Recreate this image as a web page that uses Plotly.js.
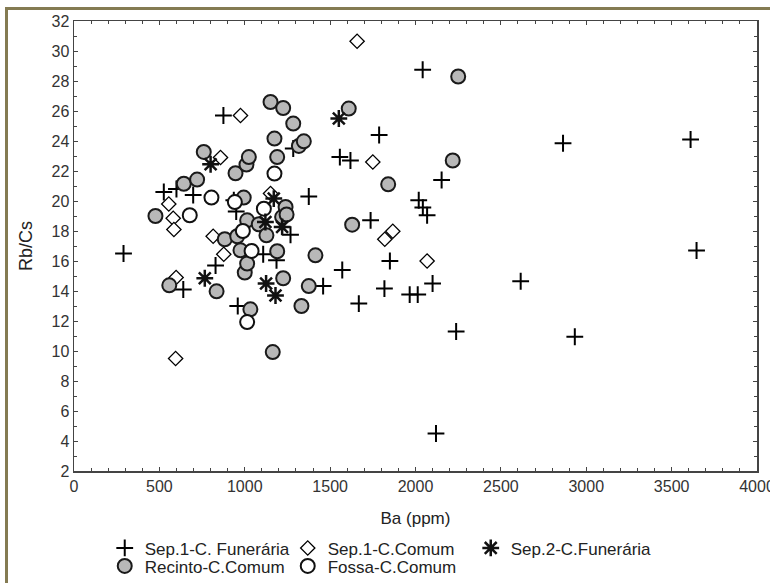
<!DOCTYPE html>
<html>
<head>
<meta charset="utf-8">
<script src="https://cdn.plot.ly/plotly-3.0.1.min.js"></script>
<style>
  html, body { margin: 0; padding: 0; background: #fff; }
  #wrap { position: relative; width: 770px; height: 583px; overflow: hidden; }
  #chart { position: absolute; left: 0; top: 0; width: 770px; height: 583px; }
  #frame { position: absolute; left: 5px; top: 7px; width: 900px; height: 700px;
           border-left: 3px solid #847b52; border-top: 3px solid #847b52; pointer-events: none; }
</style>
</head>
<body>
<div id="wrap"><div id="chart"></div><div id="frame"></div></div>
<script>
// Sep.1-C. Funerária
const sep1FunBa = [290, 875, 526, 600, 698, 640, 829, 936, 950, 959, 1108, 1186, 1268, 1284, 1375, 1459, 1557, 1619, 1571, 1668, 1737, 1787, 1818, 1850, 1966, 2013, 2019, 2043, 2068, 2100, 2042, 2153, 2120, 2238, 2616, 2864, 2933, 3611, 3646];
const sep1FunRb = [16.5, 25.7, 20.6, 20.8, 20.4, 14.1, 15.7, 20.05, 19.3, 13.0, 16.45, 16.05, 17.75, 23.5, 20.3, 14.33, 22.93, 22.7, 15.4, 13.16, 18.71, 24.4, 14.16, 16.0, 13.76, 13.76, 20.05, 19.56, 19.05, 14.5, 28.75, 21.4, 4.5, 11.3, 14.65, 23.85, 10.95, 24.1, 16.7];
// Sep.1-C.Comum
const sep1ComBa = [975, 858, 555, 581, 585, 815, 877, 598, 595, 1151, 1658, 1750, 1867, 1820, 2068];
const sep1ComRb = [25.7, 22.9, 19.8, 18.85, 18.1, 17.65, 16.45, 14.9, 9.5, 20.5, 30.65, 22.6, 17.98, 17.45, 16.0];
// Sep.2-C.Funerária
const sep2FunBa = [800, 1551, 1170, 1121, 1219, 766, 1125, 1180];
const sep2FunRb = [22.45, 25.5, 20.16, 18.6, 18.27, 14.85, 14.5, 13.7];
// Recinto-C.Comum
const recintoBa = [477, 558, 643, 721, 760, 835, 883, 946, 956, 975, 994, 1000, 1014, 1010, 1024, 1014, 1033, 1082, 1127, 1151, 1164, 1174, 1190, 1190, 1219, 1225, 1225, 1239, 1245, 1284, 1317, 1346, 1332, 1375, 1414, 1609, 1629, 1840, 2218, 2250];
const recintoRb = [19.0, 14.38, 21.15, 21.43, 23.27, 13.98, 17.45, 21.85, 17.65, 16.71, 20.23, 15.23, 15.83, 22.43, 22.93, 18.71, 12.78, 18.45, 17.71, 26.6, 9.93, 24.16, 22.93, 16.65, 18.93, 26.2, 14.85, 19.6, 19.1, 25.16, 23.67, 23.98, 13.0, 14.33, 16.38, 26.16, 18.42, 21.11, 22.7, 28.3];
// Fossa-C.Comum
const fossaBa = [678, 805, 942, 989, 1040, 1112, 1174, 1014];
const fossaRb = [19.05, 20.23, 19.93, 18.0, 16.67, 19.49, 21.83, 11.93];

const names = ["Sep.1-C. Funerária", "Sep.1-C.Comum", "Sep.2-C.Funerária", "Recinto-C.Comum", "Fossa-C.Comum"];

const font = "'Liberation Sans', Arial, sans-serif";

const traces = [
  {x: sep1FunBa, y: sep1FunRb, name: names[0], legend: 'legend', legendrank: 1, type: 'scatter', mode: 'markers',
   marker: {symbol: 'cross-thin-open', size: 12, color: '#000', line: {width: 2, color: '#000'}}},
  {x: sep1ComBa, y: sep1ComRb, name: names[1], legend: 'legend', legendrank: 2, type: 'scatter', mode: 'markers',
   marker: {symbol: 'diamond', size: 11, color: '#fff', line: {width: 1.3, color: '#000'}}},
  {x: recintoBa, y: recintoRb, name: names[3], legend: 'legend2', legendrank: 4, type: 'scatter', mode: 'markers',
   marker: {symbol: 'circle', size: 14, color: '#b8b8b8', line: {width: 2, color: '#1a1a1a'}}},
  {x: fossaBa, y: fossaRb, name: names[4], legend: 'legend2', legendrank: 5, type: 'scatter', mode: 'markers',
   marker: {symbol: 'circle', size: 14, color: '#fff', line: {width: 2, color: '#111'}}},
  {x: sep2FunBa, y: sep2FunRb, name: names[2], legend: 'legend', legendrank: 3, type: 'scatter', mode: 'markers',
   marker: {symbol: 'asterisk-open', size: 14, color: '#111', line: {width: 2.5, color: '#111'}}}
];

const axisCommon = {
  showgrid: false, zeroline: false, showline: true, linecolor: '#444', linewidth: 1.5,
  mirror: 'ticks', ticks: 'inside', ticklen: 4, tickwidth: 1, tickcolor: '#444',
  ticklabeloverflow: 'allow',
  tickfont: {family: font, size: 16, color: '#333'}
};

const legendCommon = {
  orientation: 'h', x: 0.045, xanchor: 'left', yanchor: 'middle',
  font: {family: font, size: 17, color: '#222'},
  entrywidthmode: 'pixels', entrywidth: 138, itemwidth: 30, tracegroupgap: 0,
  bgcolor: 'rgba(0,0,0,0)', borderwidth: 0
};

const layout = {
  width: 770, height: 583,
  margin: {l: 74, r: 13, t: 21, b: 112, pad: 0, autoexpand: false},
  paper_bgcolor: '#fff', plot_bgcolor: '#fff',
  showlegend: true,
  xaxis: Object.assign({}, axisCommon, {
    range: [0, 4000], dtick: 500, tick0: 0, automargin: false,
    minor: {dtick: 100, ticks: 'inside', ticklen: 3, tickcolor: '#444'},
    title: {text: 'Ba (ppm)', font: {family: font, size: 17, color: '#222'}, standoff: 18}
  }),
  yaxis: Object.assign({}, axisCommon, {
    range: [2, 32], dtick: 2, tick0: 2, automargin: false,
    minor: {dtick: 1, ticks: 'inside', ticklen: 3, tickcolor: '#444'},
    title: {text: 'Rb/Cs', font: {family: font, size: 18, color: '#222'}, standoff: 14}
  }),
  legend: Object.assign({}, legendCommon, {y: -0.172}),
  legend2: Object.assign({}, legendCommon, {y: -0.212})
};

Plotly.newPlot('chart', traces, layout, {displayModeBar: false, staticPlot: true});
</script>
</body>
</html>
